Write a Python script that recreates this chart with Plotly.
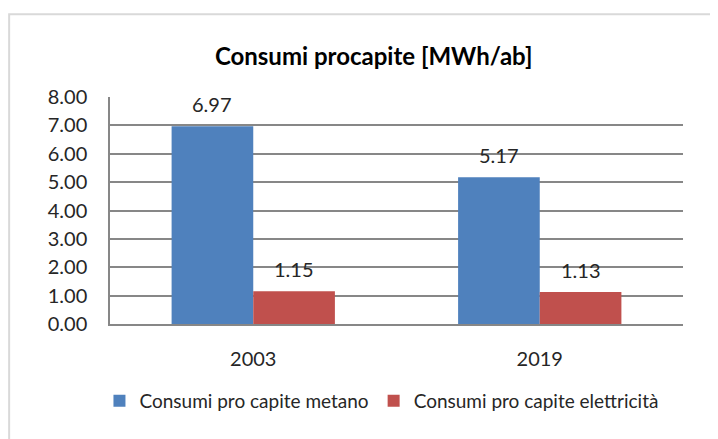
"""Consumi procapite bar chart (Excel style)."""

import plotly.graph_objects as go

years = ["2003", "2019"]
metano = [6.97, 5.17]
elettricita = [1.15, 1.13]
y_ticks = [0, 1, 2, 3, 4, 5, 6, 7, 8]

_FONT = "Lato, 'Open Sans', sans-serif"
_GRID = "#878787"
_TXT = "#262626"

fig = go.Figure()
fig.add_trace(go.Bar(
    x=years, y=metano, name="Consumi pro capite metano",
    marker=dict(color="#4F81BD", line=dict(width=0)),
))
fig.add_trace(go.Bar(
    x=years, y=elettricita, name="Consumi pro capite elettricità",
    marker=dict(color="#C0504D", line=dict(width=0)),
))

# value labels above bars (x given as category index)
for series, shift in ((metano, -41), (elettricita, 41)):
    for i, v in enumerate(series):
        fig.add_annotation(
            x=i, y=v, xref="x", yref="y", text=f"{v:.2f}", showarrow=False,
            xshift=shift, yanchor="bottom", yshift=8,
            font=dict(size=20, color=_TXT),
        )

fig.update_layout(
    width=710, height=431,
    margin=dict(l=102, r=35, t=89, b=112),
    paper_bgcolor="white", plot_bgcolor="white",
    font=dict(family=_FONT, size=20, color=_TXT),
    title=dict(text="<b>Consumi procapite [MWh/ab]</b>", x=0.515, xref="container",
               y=1 - 49 / 431, yanchor="middle", font=dict(size=24, color="#000000")),
    barmode="group", bargap=0.43, bargroupgap=0,
    showlegend=True,
    legend=dict(orientation="h", xref="container", x=0.526, xanchor="center",
                yref="container", y=1 - 393 / 431, yanchor="middle",
                font=dict(size=19), itemwidth=30, traceorder="normal"),
    shapes=[dict(type="rect", xref="paper", yref="paper",
                 x0=-0.176, x1=1.07, y0=-0.52, y1=1.365,
                 line=dict(color="#d9d9d9", width=2), layer="below")],
)
fig.update_yaxes(
    range=[0, 8], tickvals=y_ticks, tickformat=".2f",
    showgrid=True, gridcolor=_GRID, gridwidth=1.5,
    showline=True, linecolor=_GRID, linewidth=1.5,
    zeroline=False, ticks="", ticklabelstandoff=17,
)
fig.update_xaxes(
    type="category", range=[-0.5, 1.5],
    showline=True, linecolor=_GRID, linewidth=2,
    ticks="", ticklabelstandoff=16,
)

fig.write_html("out.html")
